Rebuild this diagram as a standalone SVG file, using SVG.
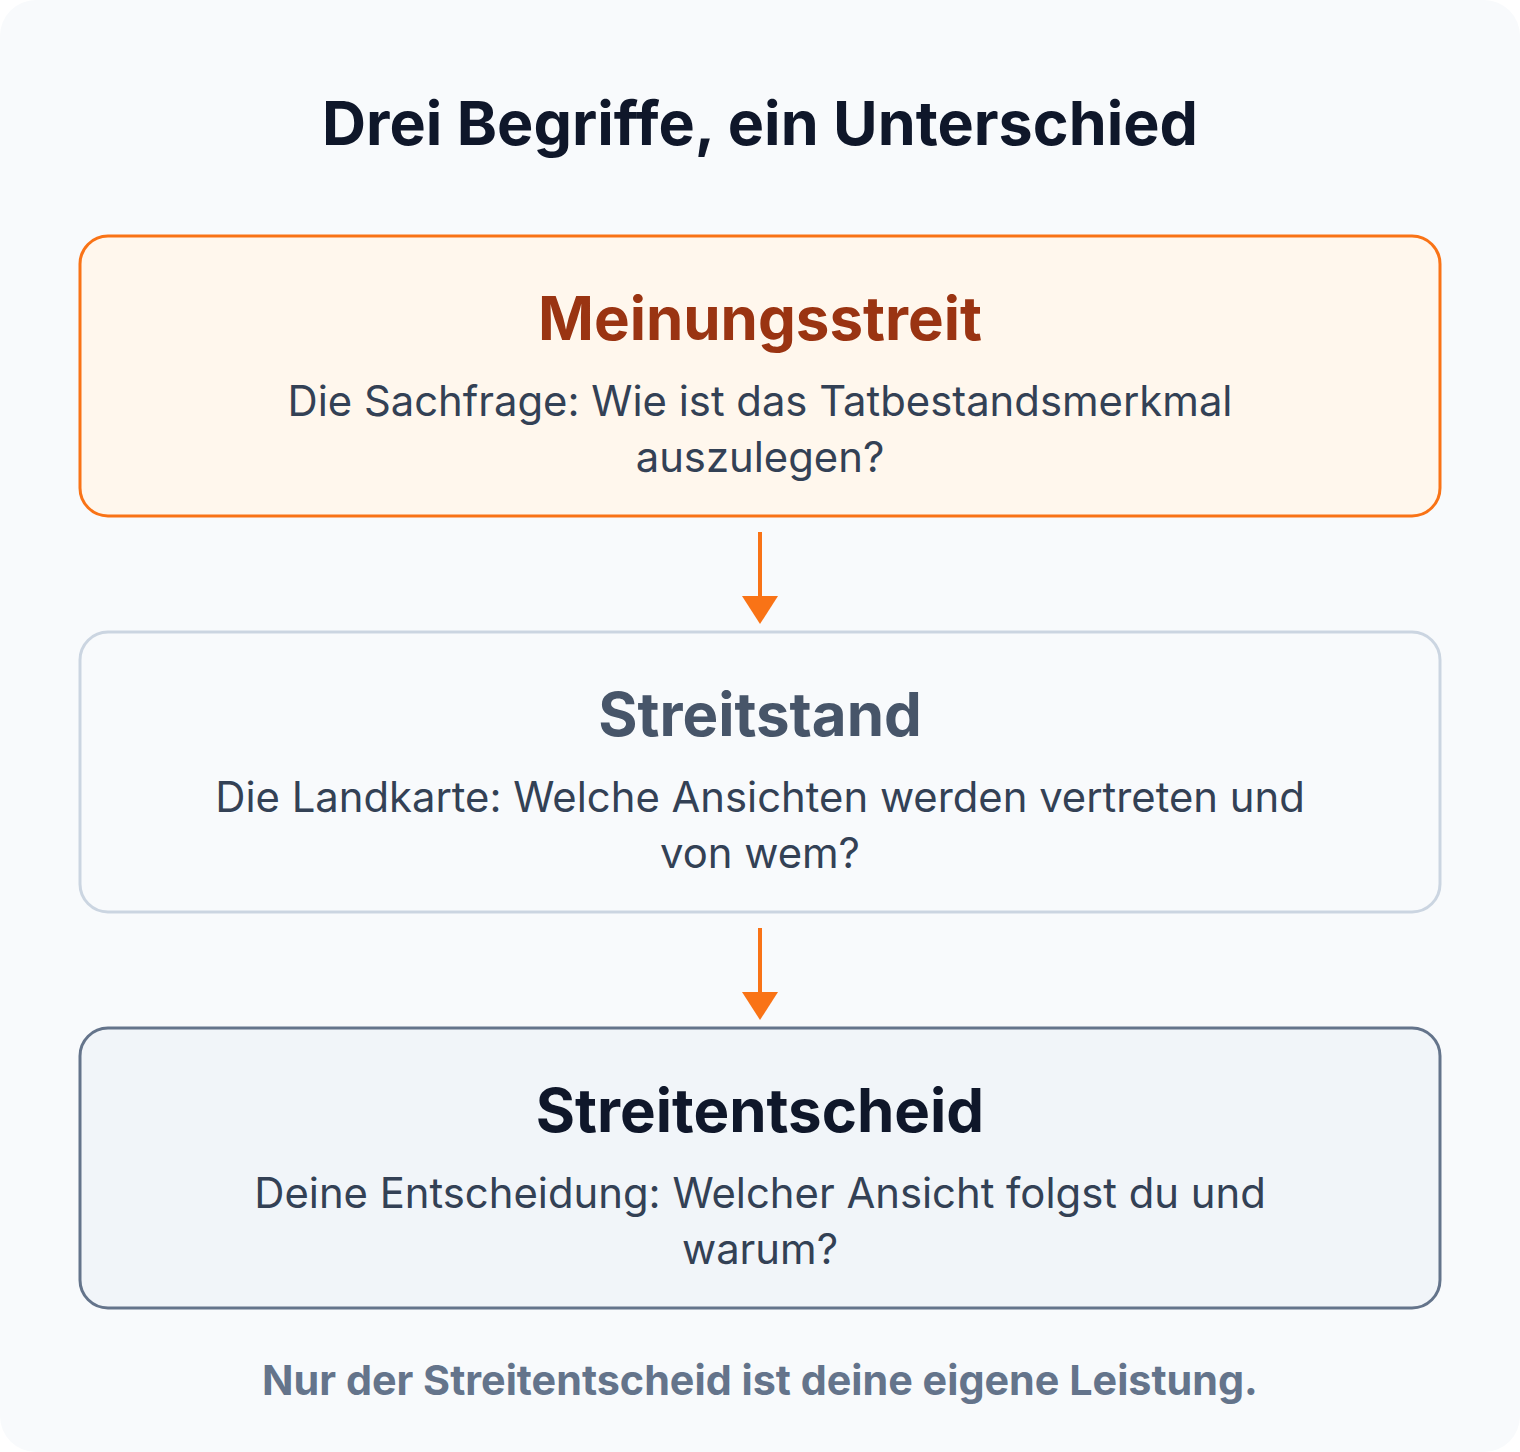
<svg xmlns="http://www.w3.org/2000/svg" width="1520" height="1452" viewBox="0 0 1520 1452">
<defs>
<style>
text{font-family:Inter,"Noto Sans","Liberation Sans",sans-serif;text-anchor:middle}
.title{font-size:61px;font-weight:700;fill:#0f172a}
.head{font-size:60px;font-weight:700}
.desc{font-size:41.8px;font-weight:400;fill:#334155}
.foot{font-size:41.3px;font-weight:700;fill:#64748b}
.box{stroke-width:3}
.conn{stroke:#f97316;stroke-width:4;fill:none}
</style>
</defs>
<rect x="0" y="0" width="1520" height="1452" fill="#ffffff"/>
<rect x="0" y="0" width="1520" height="1452" rx="36" fill="#f8fafc"/>
<text class="title" x="760" y="145">Drei Begriffe, ein Unterschied</text>
<g id="connectors">
<line class="conn" x1="760" y1="532" x2="760" y2="598"/>
<path d="M742 596H778L760 624Z" fill="#f97316"/>
<line class="conn" x1="760" y1="928" x2="760" y2="994"/>
<path d="M742 992H778L760 1020Z" fill="#f97316"/>
</g>
<g id="meinungsstreit">
<rect class="box" x="80" y="236" width="1360" height="280" rx="28" fill="#fff7ed" stroke="#f97316"/>
<text class="head" x="760" y="340" fill="#9a3412">Meinungsstreit</text>
<text class="desc" x="760" y="416">Die Sachfrage: Wie ist das Tatbestandsmerkmal</text>
<text class="desc" x="760" y="472">auszulegen?</text>
</g>
<g id="streitstand">
<rect class="box" x="80" y="632" width="1360" height="280" rx="28" fill="#f8fafc" stroke="#cbd5e1"/>
<text class="head" x="760" y="736" fill="#475569">Streitstand</text>
<text class="desc" x="760" y="812">Die Landkarte: Welche Ansichten werden vertreten und</text>
<text class="desc" x="760" y="868">von wem?</text>
</g>
<g id="streitentscheid">
<rect class="box" x="80" y="1028" width="1360" height="280" rx="28" fill="#f1f5f9" stroke="#64748b"/>
<text class="head" x="760" y="1132" fill="#0f172a">Streitentscheid</text>
<text class="desc" x="760" y="1208">Deine Entscheidung: Welcher Ansicht folgst du und</text>
<text class="desc" x="760" y="1264">warum?</text>
</g>
<text class="foot" x="760" y="1395">Nur der Streitentscheid ist deine eigene Leistung.</text>
</svg>
